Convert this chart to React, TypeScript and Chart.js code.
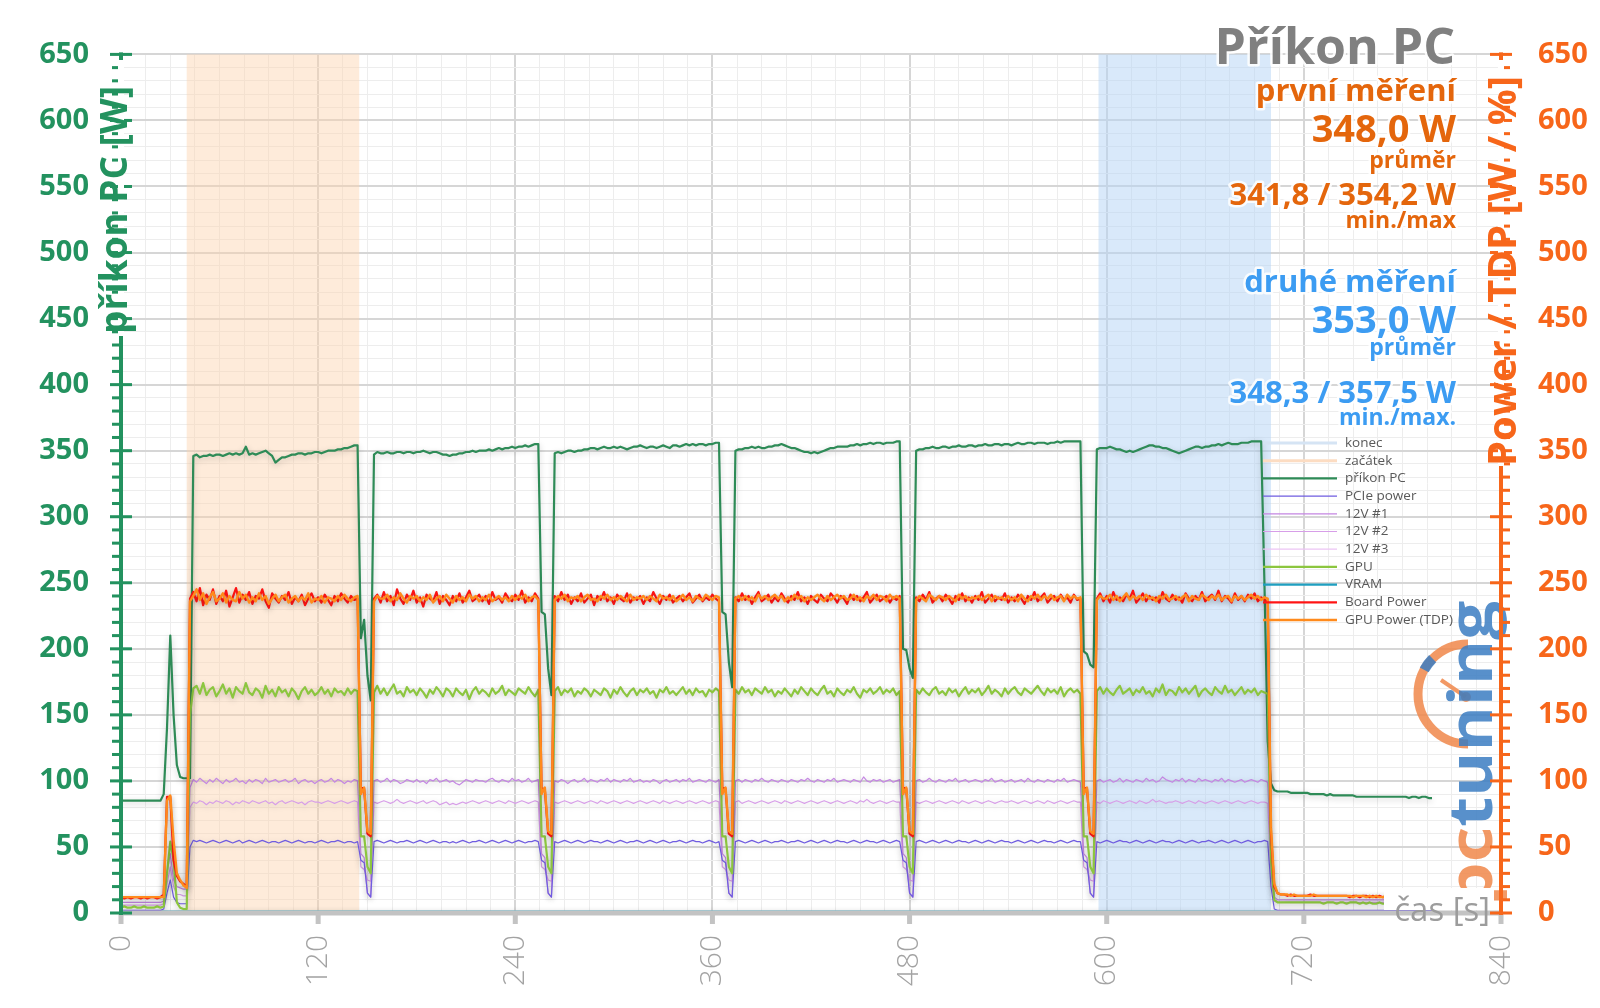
import React, { useEffect, useRef } from 'react';
import { Chart, registerables } from 'chart.js';

Chart.register(...registerables);

// ---------- data ----------
const SAMPLE_INTERVAL_S = 2;
const X_TICK_LABELS = [0, 120, 240, 360, 480, 600, 720, 840];
const Y_TICK_LABELS = [0, 50, 100, 150, 200, 250, 300, 350, 400, 450, 500, 550, 600, 650];

const START_BAND = [40, 145]; // začátek
const END_BAND = [595, 700]; // konec

const PC_W = [
  85,85,85,85,85,85,85,85,85,85,
  85,85,85,90,140,210,150,112,103,102,
  102,102,346,347,345,346,346,347,346,347,
  347,346,347,348,347,348,347,348,353,347,
  348,347,348,349,350,348,346,341,343,345,
  345,346,347,347,348,348,347,348,348,349,
  349,348,349,350,350,350,351,351,352,352,
  353,354,354,208,222,180,161,347,349,348,
  348,349,348,348,349,349,348,349,349,348,
  349,349,350,349,348,349,349,348,347,347,
  346,347,347,348,348,349,349,350,349,350,
  350,350,351,350,351,352,351,352,352,353,
  352,353,353,354,353,354,355,355,228,226,
  185,165,348,349,348,349,350,350,349,350,
  350,351,351,352,352,351,352,353,352,352,
  353,352,353,352,351,352,353,353,354,353,
  352,353,353,352,353,354,353,352,354,354,
  353,354,355,354,355,354,355,355,354,355,
  355,356,356,228,226,190,171,350,351,351,
  352,352,353,352,353,352,352,353,353,354,
  354,355,354,353,352,352,351,350,349,349,
  348,349,348,349,350,351,352,352,353,353,
  353,353,354,354,355,354,355,355,356,355,
  356,356,355,356,356,356,357,357,200,199,
  185,178,350,351,351,352,352,353,352,352,
  353,353,352,353,353,354,353,353,354,354,
  353,354,354,355,354,354,355,355,354,355,
  355,354,355,356,355,355,356,356,355,356,
  356,356,355,356,356,357,356,357,357,357,
  357,357,357,198,196,188,186,351,352,352,
  352,353,352,351,351,350,349,350,349,350,
  351,352,353,354,354,353,353,352,352,351,
  350,349,348,349,350,351,352,353,353,352,
  353,353,354,354,355,354,355,356,355,355,
  355,356,356,356,357,357,357,357,250,130,
  98,93,92,92,92,92,91,91,91,91,
  91,91,90,90,90,90,90,89,90,89,
  89,89,89,89,89,89,88,88,88,88,
  88,88,88,88,88,88,88,88,88,88,
  88,88,87,88,88,87,88,88,87,87,
];

const BOARD_W = [
  12,11,12,11,12,12,11,12,11,12,
  12,11,12,14,88,88,40,28,24,22,
  20,238,243,236,246,233,241,237,245,234,
  240,236,244,232,239,246,235,241,237,243,
  234,240,238,245,236,231,242,238,235,240,
  237,243,234,239,236,241,233,238,242,236,
  239,235,241,237,233,240,236,242,238,235,
  240,237,238,95,94,60,58,238,241,235,
  243,236,240,233,245,238,234,241,237,244,
  235,239,232,241,238,236,243,234,240,237,
  233,240,236,242,235,239,244,236,238,241,
  236,240,234,243,237,239,235,242,238,236,
  241,237,244,235,239,236,242,238,95,93,
  60,58,240,236,243,237,241,234,239,236,
  242,235,238,241,233,240,237,243,236,239,
  234,241,238,236,242,235,239,237,240,234,
  239,236,243,238,234,240,237,241,235,238,
  240,236,239,242,235,238,241,236,239,237,
  241,238,236,95,94,60,58,239,236,242,
  237,240,234,239,243,236,238,241,235,239,
  236,242,238,235,240,237,243,236,239,234,
  240,237,235,241,238,236,242,239,235,240,
  238,234,241,237,240,236,239,243,235,238,
  241,236,238,240,235,239,237,240,95,94,
  60,58,239,236,241,237,243,235,238,240,
  236,241,238,234,240,237,242,236,239,235,
  240,237,243,235,238,241,236,239,237,242,
  235,239,236,241,238,234,240,237,243,236,
  239,242,235,238,240,236,241,237,239,235,
  241,237,238,95,94,60,58,238,242,236,
  240,235,243,237,239,236,241,238,244,235,
  238,242,236,240,237,239,235,243,238,236,
  241,237,239,235,242,238,236,240,237,243,
  236,239,241,237,244,236,240,238,235,242,
  237,240,236,241,238,242,236,239,237,236,
  60,20,15,14,14,13,14,13,13,13,
  13,13,14,13,13,13,13,13,13,13,
  13,13,13,13,12,13,13,12,13,13,
  12,13,12,13,12,12,13,12,12,12,
  12,12,12,13,12,12,12,12,12,12,
];

const TDP_W = [
  12,12,12,12,12,12,12,12,12,12,
  12,12,12,12,85,89,55,30,25,21,
  19,236,240,245,237,242,234,239,243,236,
  238,242,235,240,237,236,243,238,241,235,
  239,236,242,237,240,234,238,241,236,239,
  241,235,238,240,236,239,237,242,235,238,
  237,240,235,239,238,236,240,237,241,238,
  236,239,240,90,95,62,60,236,240,238,
  238,241,236,239,237,242,238,235,240,238,
  240,236,239,237,241,235,238,240,236,241,
  238,235,240,237,239,236,241,238,240,236,
  239,237,241,236,238,240,237,239,236,240,
  237,240,238,241,236,239,240,237,90,95,
  62,60,237,240,238,241,236,239,238,240,
  236,239,241,237,238,236,240,238,241,237,
  239,237,240,238,236,241,237,239,238,240,
  237,240,238,236,241,238,239,237,240,236,
  238,241,237,239,236,240,238,237,241,239,
  237,240,239,90,95,62,60,238,240,237,
  240,237,239,236,241,238,240,237,239,241,
  238,240,236,239,237,241,238,240,236,239,
  237,239,241,238,236,240,237,239,241,238,
  240,237,238,241,237,239,236,240,238,241,
  237,240,239,236,241,238,240,238,90,95,
  62,60,237,240,238,236,241,239,237,240,
  239,237,240,238,236,241,238,240,237,239,
  238,240,237,239,241,236,240,238,239,237,
  240,237,239,236,241,238,236,240,238,241,
  237,240,238,241,237,239,240,236,241,238,
  240,238,239,90,95,62,60,237,240,238,
  238,241,237,240,236,239,242,237,240,238,
  240,237,241,238,239,236,240,238,241,237,
  238,240,237,239,241,236,240,238,237,241,
  239,237,240,238,241,237,239,240,236,240,
  238,240,237,239,241,238,240,237,239,238,
  65,22,15,14,14,14,13,14,13,13,
  13,13,13,14,13,13,13,13,13,13,
  13,13,13,13,13,12,13,13,13,12,
  13,12,13,12,12,13,12,12,13,12,
  12,12,13,12,12,12,12,12,12,12,
];

const GPU_W = [
  4,5,4,4,5,4,4,5,4,4,
  4,5,4,5,30,54,40,8,4,3,
  3,150,170,172,166,174,165,169,171,164,
  168,173,166,170,163,171,168,166,174,167,
  165,170,168,163,172,166,169,164,171,167,
  169,164,170,167,162,168,171,166,169,165,
  167,171,166,169,164,170,167,168,165,170,
  166,169,168,58,58,35,30,167,172,166,
  170,165,169,173,166,168,164,171,167,169,
  165,170,167,163,169,166,171,168,164,170,
  168,164,170,167,165,169,162,168,171,166,
  169,167,164,170,166,168,172,165,169,167,
  165,170,168,166,171,167,164,169,58,58,
  35,30,168,171,165,169,167,170,164,168,
  166,170,168,164,169,167,165,170,168,163,
  169,166,171,167,164,168,170,165,169,167,
  170,166,168,163,169,167,171,166,168,165,
  168,171,166,169,165,170,167,168,164,169,
  167,170,168,58,58,35,30,169,166,171,
  167,169,165,170,168,166,171,167,169,164,
  168,166,170,167,164,169,166,171,168,165,
  170,167,165,169,172,166,168,164,170,167,
  165,169,167,171,166,163,169,167,170,166,
  168,171,166,169,167,170,165,168,58,58,
  35,30,169,166,170,167,165,169,171,166,
  168,165,170,167,169,164,168,171,166,169,
  167,170,165,168,172,166,169,167,164,170,
  166,169,171,167,165,170,168,166,169,172,
  168,165,170,167,169,166,171,164,168,170,
  167,169,166,58,58,35,30,168,171,166,
  170,167,165,169,172,166,168,170,165,169,
  167,171,166,168,164,170,167,173,165,169,
  168,165,171,167,170,166,169,172,164,168,
  170,167,165,171,168,166,172,167,169,165,
  168,171,166,169,167,170,165,168,167,166,
  40,10,8,8,8,8,8,8,8,8,
  8,8,8,8,8,8,7,8,8,8,
  7,8,8,7,8,8,8,7,8,7,
  8,7,7,8,7,7,8,7,7,7,
  7,7,7,7,7,7,7,7,7,7,
];

const V12_1_W = [
  8,8,8,8,8,8,8,8,8,8,
  8,8,8,9,30,45,25,20,19,18,
  18,95,101,99,102,100,98,101,99,102,
  100,98,101,99,100,102,99,100,98,101,
  99,101,100,98,102,99,100,101,99,100,
  101,99,100,102,98,100,101,99,100,98,
  100,101,99,100,102,99,101,100,98,100,
  99,101,100,45,42,15,12,100,101,99,
  100,102,99,101,100,98,99,101,100,99,
  101,99,100,98,101,100,102,99,100,101,
  99,100,98,97,99,101,100,99,101,100,
  100,99,101,102,100,99,101,100,99,102,
  100,101,99,100,102,99,100,101,45,42,
  15,12,100,99,101,100,98,100,101,99,
  100,102,99,101,100,99,101,100,102,99,
  101,100,99,101,100,102,99,100,101,99,
  100,99,101,100,98,100,101,99,100,101,
  99,101,100,102,99,100,101,100,99,101,
  100,99,101,45,42,15,12,100,101,99,
  101,100,99,101,100,102,100,99,101,100,
  99,101,100,99,101,100,99,101,100,102,
  100,99,101,100,99,101,100,102,99,100,
  101,100,99,101,100,99,103,100,99,101,
  100,101,99,100,101,99,100,101,45,42,
  15,12,100,101,99,100,102,100,99,101,
  100,99,101,100,102,99,100,101,99,100,
  101,100,99,101,100,102,99,100,101,99,
  100,101,99,100,101,99,102,100,99,101,
  100,99,101,100,99,101,100,102,99,100,
  101,100,99,45,42,15,12,100,101,99,
  100,101,99,100,102,99,101,100,99,101,
  100,99,102,100,101,99,100,103,101,100,
  99,101,100,102,99,101,100,99,102,100,
  101,100,99,101,100,102,99,101,100,99,
  100,101,99,100,101,100,99,101,100,99,
  40,12,10,10,10,10,10,10,10,10,
  10,10,10,10,10,10,10,10,10,10,
  10,10,10,10,10,10,10,10,10,10,
  10,10,10,10,10,10,10,10,10,10,
  10,10,10,10,10,10,10,10,10,10,
];

const V12_2_W = [
  6,6,6,6,6,6,6,6,6,6,
  6,6,6,7,22,35,20,14,14,13,
  13,80,84,83,85,84,82,84,83,85,
  84,83,85,84,82,84,83,85,84,83,
  85,84,83,84,85,83,84,82,84,85,
  83,84,85,84,83,84,82,84,85,84,
  84,83,84,85,84,83,84,85,84,83,
  84,85,84,35,33,25,24,84,83,84,
  85,84,83,84,86,84,83,84,85,84,
  83,84,85,83,84,85,84,82,83,84,
  82,83,82,83,84,83,84,85,84,83,
  84,85,84,83,84,85,84,83,85,84,
  83,84,85,84,83,84,85,84,35,33,
  25,24,84,83,84,85,84,83,84,85,
  84,83,84,85,84,83,85,84,83,84,
  85,84,83,84,85,84,83,84,85,84,
  83,84,85,84,83,85,84,83,84,85,
  84,83,84,85,84,83,84,85,84,83,
  84,85,84,35,33,25,24,84,85,83,
  84,85,84,83,84,85,84,83,84,85,
  84,83,85,84,83,84,85,84,83,84,
  85,84,83,84,85,84,83,84,85,84,
  83,84,85,84,83,85,84,86,84,83,
  84,85,84,83,84,85,84,84,35,33,
  25,24,84,83,84,85,84,83,84,85,
  84,83,84,85,84,83,85,84,83,84,
  85,84,83,84,85,84,83,84,85,84,
  84,85,84,83,84,85,84,83,84,85,
  84,83,85,84,83,84,85,84,83,84,
  85,84,84,35,33,25,24,84,83,85,
  84,83,84,85,84,83,84,85,84,83,
  85,84,83,84,86,84,85,84,83,84,
  84,85,84,83,84,85,84,83,85,84,
  83,84,85,84,83,84,85,84,83,84,
  85,84,83,84,85,84,83,84,84,83,
  30,9,8,8,8,8,8,8,8,8,
  8,8,8,8,8,8,8,8,8,8,
  8,8,8,8,8,8,8,8,8,8,
  8,8,8,8,8,8,8,8,8,8,
  8,8,8,8,8,8,8,8,8,8,
];

const PCIE_W = [
  2,2,2,2,2,2,2,2,2,2,
  2,2,2,3,15,25,12,8,7,7,
  7,50,55,54,55,54,53,54,55,54,
  53,54,55,54,53,54,55,53,54,55,
  54,53,54,55,54,53,54,54,53,54,
  55,54,53,54,55,54,53,54,54,53,
  54,55,54,53,54,54,55,54,53,54,
  54,53,54,40,38,15,12,54,55,54,
  53,54,55,54,53,54,54,55,54,53,
  54,55,54,53,54,55,54,53,54,54,
  53,54,53,54,55,54,53,54,54,55,
  54,53,54,55,54,53,54,55,54,53,
  54,55,54,53,54,54,55,54,40,38,
  15,12,54,53,54,55,54,53,54,55,
  54,53,54,55,54,54,53,54,55,54,
  53,54,55,54,53,54,54,55,54,53,
  54,55,54,53,54,55,54,53,54,54,
  55,54,53,54,55,54,54,53,54,55,
  54,53,54,40,38,15,12,54,55,54,
  53,54,55,54,53,54,55,54,53,54,
  54,55,54,53,54,54,55,54,53,54,
  55,54,53,54,55,54,53,54,55,54,
  54,53,54,55,54,53,54,55,54,54,
  53,54,55,54,53,54,55,54,40,38,
  15,12,54,55,54,53,54,55,54,53,
  54,55,54,53,54,55,54,54,53,54,
  55,54,53,54,55,54,53,54,55,54,
  54,53,54,55,54,53,54,55,54,53,
  54,55,54,54,53,54,55,54,53,54,
  55,54,54,40,38,15,12,54,53,54,
  55,54,53,54,55,54,54,53,54,55,
  54,53,54,55,54,53,54,55,54,54,
  53,54,55,54,53,54,55,54,53,54,
  54,55,54,53,54,55,54,53,54,55,
  54,53,54,55,54,53,54,54,55,54,
  20,3,2,2,2,2,2,2,2,2,
  2,2,2,2,2,2,2,2,2,2,
  2,2,2,2,2,2,2,2,2,2,
  2,2,2,2,2,2,2,2,2,2,
  2,2,2,2,2,2,2,2,2,2,
];

// 12V #3 and VRAM stay at the bottom of the scale (hidden under the time axis)
const FLAT_T = [0, 798];
const V12_3_W = [1, 1];
const VRAM_W = [1, 1];

const TIME = PC_W.map((_, i) => i * SAMPLE_INTERVAL_S);

// ---------- styles ----------
const FONT = "'Open Sans', 'Noto Sans', sans-serif";
const GREEN = '#23925f';
const ORANGE_AX = '#f7661a';
const ORANGE_TXT = '#e4660c';
const BLUE_TXT = '#3c9cf2';
const GREY_TXT = '#808080';

const START_FILL = 'rgba(252, 210, 172, 0.45)';
const END_FILL = 'rgba(180, 212, 245, 0.5)';

const pts = (t: number[], v: number[]) => v.map((y, i) => ({ x: t[i], y }));

const SERIES = [
  { label: 'GPU Power (TDP)', data: TDP_W, t: TIME, color: '#ff8a1c', width: 2.4, order: 0 },
  { label: 'Board Power', data: BOARD_W, t: TIME, color: '#ff1414', width: 2.2, order: 1 },
  { label: 'VRAM', data: VRAM_W, t: FLAT_T, color: '#1f9fc0', width: 2.2, order: 8 },
  { label: 'GPU', data: GPU_W, t: TIME, color: '#8cc63f', width: 2.2, order: 2 },
  { label: '12V #3', data: V12_3_W, t: FLAT_T, color: '#ecc4f4', width: 1.2, order: 7 },
  { label: '12V #2', data: V12_2_W, t: TIME, color: '#d79ee8', width: 1.2, order: 6 },
  { label: '12V #1', data: V12_1_W, t: TIME, color: '#c486e2', width: 1.2, order: 5 },
  { label: 'PCIe power', data: PCIE_W, t: TIME, color: '#6f5ce0', width: 1.2, order: 4 },
  { label: 'příkon PC', data: PC_W, t: TIME, color: '#2e8b57', width: 2.2, order: 3 },
];

const LEGEND_ORDER = ['konec', 'začátek', 'příkon PC', 'PCIe power', '12V #1', '12V #2', '12V #3', 'GPU', 'VRAM', 'Board Power', 'GPU Power (TDP)'];

const STATS = [
  { text: 'první měření', size: 31, color: ORANGE_TXT, base: 101 },
  { text: '348,0 W', size: 38, color: ORANGE_TXT, base: 142 },
  { text: 'průměr', size: 23, color: ORANGE_TXT, base: 168 },
  { text: '341,8 / 354,2 W', size: 31, color: ORANGE_TXT, base: 205 },
  { text: 'min./max', size: 23, color: ORANGE_TXT, base: 228 },
  { text: 'druhé měření', size: 31, color: BLUE_TXT, base: 292 },
  { text: '353,0 W', size: 38, color: BLUE_TXT, base: 333 },
  { text: 'průměr', size: 23, color: BLUE_TXT, base: 355 },
  { text: '348,3 / 357,5 W', size: 31, color: BLUE_TXT, base: 403 },
  { text: 'min./max.', size: 23, color: BLUE_TXT, base: 425 },
];

function rotText(ctx: CanvasRenderingContext2D, text: string, x: number, y: number, font: string, color: string) {
  ctx.save();
  ctx.translate(x, y);
  ctx.rotate(-Math.PI / 2);
  ctx.font = font;
  ctx.textAlign = 'left';
  ctx.textBaseline = 'alphabetic';
  ctx.fillStyle = color;
  ctx.fillText(text, 0, 0);
  ctx.restore();
}

const decor = {
  id: 'decor',
  beforeDatasetsDraw(chart: any) {
    const { ctx, chartArea, scales } = chart;
    const x = scales.x;
    const bands = [
      { r: START_BAND, fill: START_FILL },
      { r: END_BAND, fill: END_FILL },
    ];
    for (const b of bands) {
      const x0 = x.getPixelForValue(b.r[0]);
      const x1 = x.getPixelForValue(b.r[1]);
      ctx.fillStyle = b.fill;
      ctx.fillRect(x0, chartArea.top, x1 - x0, chartArea.bottom - chartArea.top);
    }
    ctx.save();
    ctx.shadowColor = 'rgba(0,0,0,0.22)';
    ctx.shadowBlur = 6;
    ctx.shadowOffsetY = 2;
  },
  afterDatasetsDraw(chart: any) {
    const { ctx, chartArea, scales } = chart;
    ctx.restore();
    const { left, right, top, bottom } = chartArea;
    const y = scales.y;
    const x = scales.x;

    // logo watermark
    ctx.save();
    ctx.globalAlpha = 0.85;
    ctx.strokeStyle = '#f0874a';
    ctx.lineWidth = 9;
    ctx.beginPath();
    ctx.arc(1468, 694, 50, Math.PI * 0.5, Math.PI * 1.5);
    ctx.stroke();
    ctx.strokeStyle = '#3b7cc2';
    ctx.lineWidth = 10;
    ctx.beginPath();
    ctx.arc(1468, 694, 50, Math.PI * 1.16, Math.PI * 1.25);
    ctx.stroke();
    ctx.strokeStyle = '#f0874a';
    ctx.lineWidth = 4;
    ctx.beginPath();
    ctx.moveTo(1466, 697);
    ctx.lineTo(1441, 680);
    ctx.stroke();
    ctx.fillStyle = '#f0874a';
    ctx.beginPath();
    ctx.arc(1466, 697, 5, 0, Math.PI * 2);
    ctx.fill();
    ctx.translate(1492, 906);
    ctx.rotate(-Math.PI / 2);
    ctx.scale(1.15, 1);
    ctx.font = `bold 60px ${FONT}`;
    ctx.textBaseline = 'alphabetic';
    ctx.fillStyle = '#f0874a';
    ctx.fillText('pc', 0, 0);
    const w = ctx.measureText('pc').width;
    ctx.fillStyle = '#3b7cc2';
    ctx.fillText('tuning', w, 0);
    ctx.restore();

    // x axis line and ticks
    ctx.fillStyle = '#c3c3c3';
    ctx.fillRect(left, bottom - 2.5, right - left, 5);
    for (const t of x.ticks) {
      if (X_TICK_LABELS.includes(t.value)) {
        const px = x.getPixelForValue(t.value);
        ctx.fillRect(px - 2.5, bottom, 5, 11);
      }
    }

    // left axis
    ctx.fillStyle = GREEN;
    ctx.fillRect(left - 2, top - 2, 4, bottom - top + 4);
    for (const t of y.ticks) {
      const py = y.getPixelForValue(t.value);
      if (Y_TICK_LABELS.includes(t.value)) ctx.fillRect(left - 11, py - 1.5, 22, 3);
      else ctx.fillRect(left - 9, py - 1.5, 9, 3);
    }
    // right axis
    ctx.fillStyle = ORANGE_AX;
    ctx.fillRect(right - 2, top - 2, 4, bottom - top + 4);
    for (const t of y.ticks) {
      const py = y.getPixelForValue(t.value);
      if (Y_TICK_LABELS.includes(t.value)) ctx.fillRect(right - 11, py - 1.5, 22, 3);
      else ctx.fillRect(right, py - 1.5, 9, 3);
    }

    // axis titles (cover the axis line behind them)
    ctx.fillStyle = '#ffffff';
    ctx.fillRect(left - 3, 60, 6, 276);
    ctx.fillRect(right - 3, 60, 6, 406);
    rotText(ctx, 'příkon PC [W]', 127, 334, `bold 37px ${FONT}`, GREEN);
    rotText(ctx, 'Power / TDP [W / %]', 1516, 466, `bold 40px ${FONT}`, ORANGE_AX);

    // time label
    ctx.fillStyle = '#ffffff';
    ctx.fillRect(1384, 888, 110, 22);
    ctx.save();
    ctx.font = `33px ${FONT}`;
    ctx.textAlign = 'right';
    ctx.textBaseline = 'alphabetic';
    ctx.fillStyle = '#9c9c9c';
    ctx.fillText('čas [s]', 1490, 921);
    ctx.restore();

    // legend
    const byLabel: Record<string, any> = {};
    chart.data.datasets.forEach((d: any) => { byLabel[d.label] = d; });
    ctx.save();
    ctx.font = `13.5px ${FONT}`;
    ctx.textBaseline = 'middle';
    ctx.textAlign = 'left';
    LEGEND_ORDER.forEach((lab, i) => {
      const ly = 443 + i * 17.7;
      let color = '#ccc';
      let lw = 2;
      if (lab === 'konec') { color = '#d5e4f4'; lw = 3; }
      else if (lab === 'začátek') { color = '#fcdcc2'; lw = 3; }
      else if (byLabel[lab]) { color = byLabel[lab].borderColor; lw = byLabel[lab].borderWidth; }
      ctx.strokeStyle = color;
      ctx.lineWidth = lw;
      ctx.beginPath();
      ctx.moveTo(1263, ly);
      ctx.lineTo(1337, ly);
      ctx.stroke();
      ctx.fillStyle = '#595959';
      ctx.fillText(lab, 1345, ly);
    });
    ctx.restore();

    // title and stats
    ctx.save();
    ctx.textAlign = 'right';
    ctx.textBaseline = 'alphabetic';
    ctx.lineJoin = 'round';
    ctx.strokeStyle = 'rgba(255,255,255,0.85)';
    ctx.lineWidth = 5;
    ctx.font = `bold 50px ${FONT}`;
    ctx.strokeText('Příkon PC', 1455, 64);
    ctx.fillStyle = GREY_TXT;
    ctx.fillText('Příkon PC', 1455, 64);
    for (const s of STATS) {
      ctx.font = `bold ${s.size}px ${FONT}`;
      ctx.strokeText(s.text, 1456, s.base);
      ctx.fillStyle = s.color;
      ctx.fillText(s.text, 1456, s.base);
    }
    ctx.restore();
  },
};

const gridColorY = (c: any) => (c.tick && Y_TICK_LABELS.includes(c.tick.value) ? '#d6d6d6' : '#ededed');
const gridWidthY = (c: any) => (c.tick && Y_TICK_LABELS.includes(c.tick.value) ? 2 : 1);
const gridColorX = (c: any) => (c.tick && X_TICK_LABELS.includes(c.tick.value) ? '#d6d6d6' : '#ededed');
const gridWidthX = (c: any) => (c.tick && X_TICK_LABELS.includes(c.tick.value) ? 2 : 1);

export default function App() {
  const ref = useRef<HTMLCanvasElement | null>(null);
  useEffect(() => {
    document.body.style.margin = '0';
    const canvas = ref.current;
    if (!canvas) return;
    const chart = new Chart(canvas, {
      type: 'line',
      data: {
        datasets: SERIES.map((s) => ({
          label: s.label,
          data: pts(s.t, s.data),
          borderColor: s.color,
          backgroundColor: s.color,
          borderWidth: s.width,
          pointRadius: 0,
          tension: 0,
          fill: false,
          order: s.order,
          borderJoinStyle: 'round' as const,
        })),
      },
      options: {
        animation: false,
        responsive: false,
        devicePixelRatio: 1,
        layout: { padding: { top: 54, left: 0, right: 0, bottom: 0 } },
        plugins: { legend: { display: false }, tooltip: { enabled: false }, title: { display: false } },
        scales: {
          x: {
            type: 'linear',
            min: 0,
            max: 840,
            afterFit: (s: any) => { s.height = 95; },
            border: { display: false },
            grid: { color: gridColorX, lineWidth: gridWidthX, drawTicks: false },
            ticks: {
              stepSize: 15,
              autoSkip: false,
              maxRotation: 90,
              minRotation: 90,
              padding: 22,
              color: '#a3a3a3',
              font: { family: FONT, size: 30, weight: '300' },
              callback: (v: any) => (X_TICK_LABELS.includes(Number(v)) ? String(v) : ''),
            },
          },
          y: {
            position: 'left',
            min: 0,
            max: 650,
            afterFit: (s: any) => { s.width = 121; },
            border: { display: false },
            grid: { color: gridColorY, lineWidth: gridWidthY, drawTicks: false },
            ticks: {
              stepSize: 10,
              autoSkip: false,
              padding: 32,
              color: GREEN,
              font: { family: FONT, size: 29, weight: 'bold' },
              callback: (v: any) => (Y_TICK_LABELS.includes(Number(v)) ? String(v) : ''),
            },
          },
          y2: {
            position: 'right',
            min: 0,
            max: 650,
            afterFit: (s: any) => { s.width = 99; },
            border: { display: false },
            grid: { drawOnChartArea: false, drawTicks: false },
            ticks: {
              stepSize: 10,
              autoSkip: false,
              padding: 37,
              color: ORANGE_AX,
              font: { family: FONT, size: 29, weight: 'bold' },
              callback: (v: any) => (Y_TICK_LABELS.includes(Number(v)) ? String(v) : ''),
            },
          },
        },
      },
      plugins: [decor],
    } as any);
    return () => chart.destroy();
  }, []);
  return (
    <div style={{ width: 1600, height: 1008 }}>
      <canvas ref={ref} width={1600} height={1008} style={{ display: 'block' }} />
    </div>
  );
}
